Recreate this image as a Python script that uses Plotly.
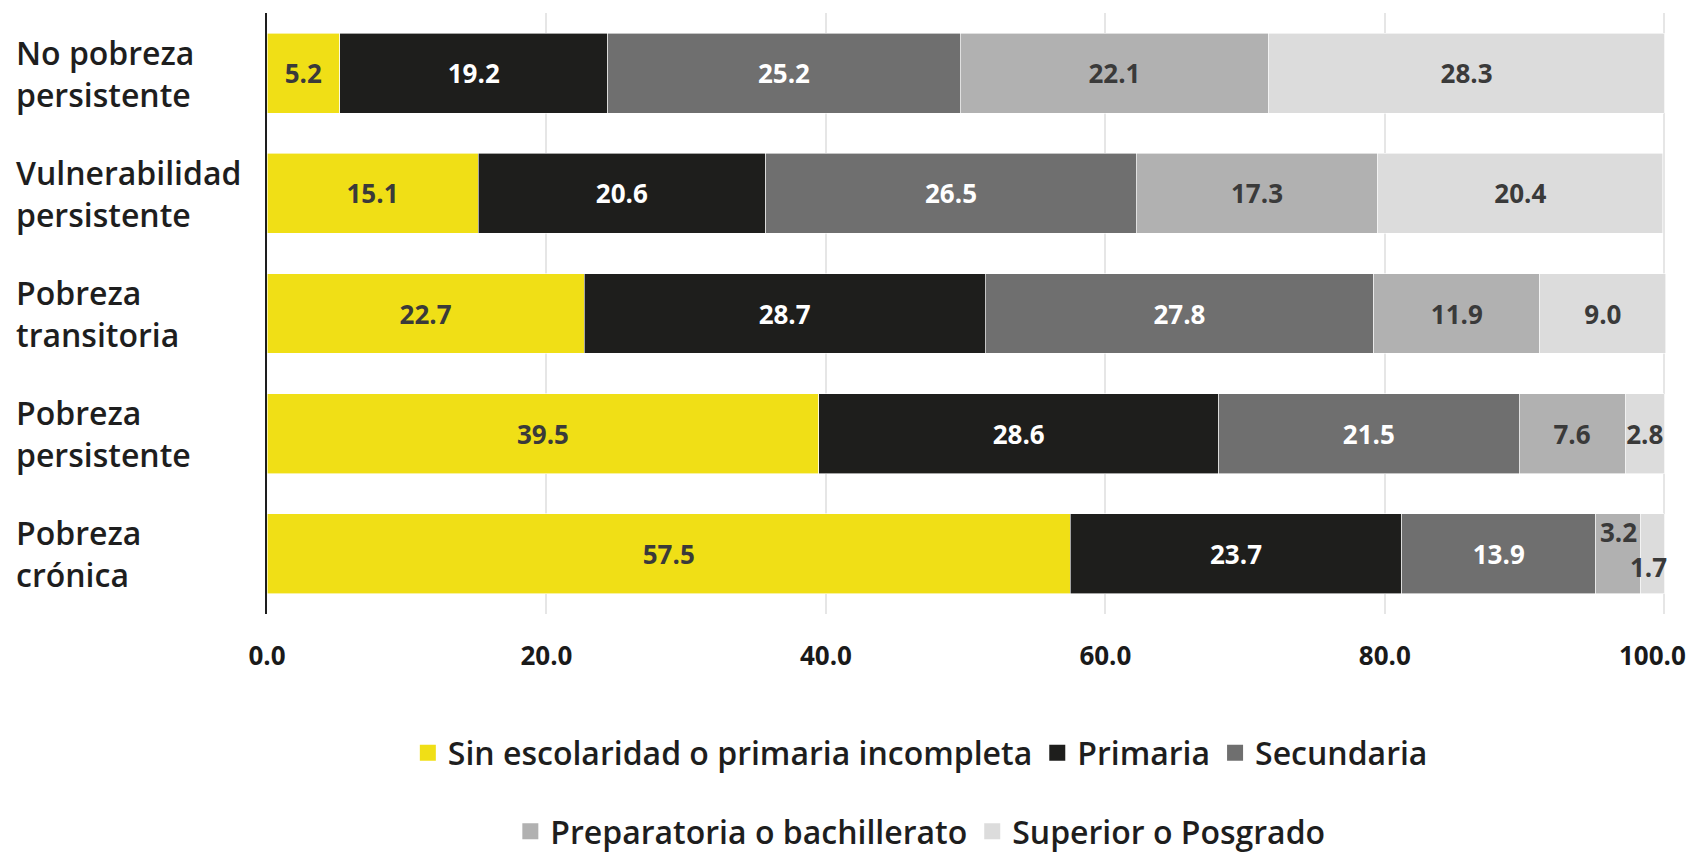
import plotly.graph_objects as go

categories = ["No pobreza persistente", "Vulnerabilidad persistente", "Pobreza transitoria",
              "Pobreza persistente", "Pobreza crónica"]
category_labels = ["No pobreza<br>persistente", "Vulnerabilidad<br>persistente", "Pobreza<br>transitoria",
                   "Pobreza<br>persistente", "Pobreza<br>crónica"]
series_names = ["Sin escolaridad o primaria incompleta", "Primaria", "Secundaria",
                "Preparatoria o bachillerato", "Superior o Posgrado"]
sin_escolaridad = [5.2, 15.1, 22.7, 39.5, 57.5]
primaria = [19.2, 20.6, 28.7, 28.6, 23.7]
secundaria = [25.2, 26.5, 27.8, 21.5, 13.9]
preparatoria = [22.1, 17.3, 11.9, 7.6, 3.2]
superior = [28.3, 20.4, 9.0, 2.8, 1.7]
x_ticks = [0, 20, 40, 60, 80, 100]

series_values = [sin_escolaridad, primaria, secundaria, preparatoria, superior]
colors = ["#F0DF16", "#1E1E1C", "#6F6F6F", "#B1B1B1", "#DCDCDC"]
text_colors = ["#3A3A3A", "#FFFFFF", "#FFFFFF", "#3A3A3A", "#3A3A3A"]

FONT = "Open Sans"
LABEL_SIZE = 26
TICK_FONT = dict(family=FONT, size=26, color="#1A1A1A", weight=700)
# labels that the original chart nudged away from the bar centre (series idx, category idx): (xshift, yshift)
nudged = {(3, 4): (0, 22), (4, 4): (-4, -13)}

fig = go.Figure()
annotations = []
for si, (name, vals) in enumerate(zip(series_names, series_values)):
    texts = []
    for ci, v in enumerate(vals):
        if (si, ci) in nudged:
            texts.append("")
            base = sum(series_values[k][ci] for k in range(si))
            dx, dy = nudged[(si, ci)]
            annotations.append(dict(
                x=base + v / 2, y=categories[ci], xref="x", yref="y",
                text=f"{v:.1f}", showarrow=False, xshift=dx, yshift=dy,
                font=dict(family=FONT, size=LABEL_SIZE, color=text_colors[si], weight=700)))
        else:
            texts.append(f"{v:.1f}")
    fig.add_trace(go.Bar(
        y=categories, x=vals, name=name, orientation="h",
        marker=dict(color=colors[si], line=dict(color="#FFFFFF", width=0.6)),
        text=texts, textposition="inside", insidetextanchor="middle", textangle=0,
        textfont=dict(family=FONT, size=LABEL_SIZE, color=text_colors[si], weight=700),
        showlegend=False, hoverinfo="skip", cliponaxis=False,
    ))

# legend proxies (square swatches)
for si, name in enumerate(series_names):
    fig.add_trace(go.Scatter(
        x=[None], y=[None], mode="markers", name=name,
        marker=dict(symbol="square", size=16, color=colors[si]),
        legend="legend" if si < 3 else "legend2",
    ))

for ci, lab in enumerate(category_labels):
    annotations.append(dict(
        x=-0.1805, y=categories[ci], xref="paper", yref="y", text=lab,
        showarrow=False, xanchor="left", align="left",
        font=dict(family=FONT, size=32, color="#1E1E1E", weight=600)))

# tick texts; the last one is drawn right-aligned so it stays inside the figure, as in the original
tick_text = [f"{t:.1f}" for t in x_ticks]
annotations.append(dict(
    x=x_ticks[-1], y=0, xref="x", yref="paper", text=tick_text[-1],
    showarrow=False, xanchor="right", yanchor="middle", xshift=24, yshift=-41,
    font=TICK_FONT))
tick_text[-1] = ""

legend_font = dict(family=FONT, size=32, color="#1E1E1E", weight=600)
fig.update_layout(
    width=1694, height=857, autosize=False,
    margin=dict(l=267, r=28, t=13, b=243, autoexpand=False),
    barmode="stack", bargap=0.336,
    plot_bgcolor="#FFFFFF", paper_bgcolor="#FFFFFF",
    uniformtext=dict(minsize=LABEL_SIZE, mode="show"),
    xaxis=dict(range=[0, 100.12], tickvals=x_ticks, ticktext=tick_text, automargin=False,
               showgrid=True, gridcolor="#E6E6E6", gridwidth=1.5, zeroline=False,
               ticks="", ticklabelstandoff=24, ticklabeloverflow="allow", fixedrange=True,
               tickfont=TICK_FONT),
    yaxis=dict(type="category", categoryorder="array", categoryarray=categories,
               autorange="reversed", showticklabels=False, showgrid=False, fixedrange=True,
               automargin=False,
               showline=True, linecolor="#1E1E1E", linewidth=2, zeroline=False),
    legend=dict(orientation="h", x=0.467, xanchor="center", y=-0.231, yanchor="middle",
                font=legend_font, itemsizing="trace", itemclick=False, traceorder="normal"),
    legend2=dict(orientation="h", x=0.467, xanchor="center", y=-0.362, yanchor="middle",
                 font=legend_font, itemsizing="trace", itemclick=False, traceorder="normal"),
    annotations=annotations,
)

fig.write_html("out.html",
               config={"responsive": False, "displayModeBar": False},
               post_script="document.body.style.margin='0';document.body.style.overflow='hidden';")
